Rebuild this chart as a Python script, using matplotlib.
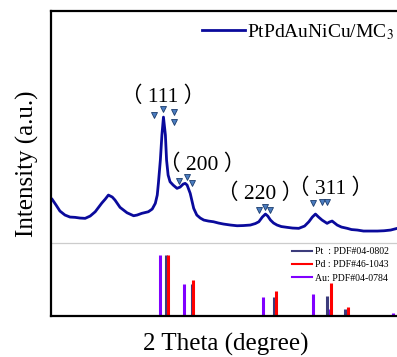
import matplotlib
matplotlib.use('Agg')
import matplotlib.pyplot as plt
from matplotlib.lines import Line2D

plt.rcParams['font.family'] = ['Liberation Serif', 'Noto Sans CJK SC']
plt.rcParams['mathtext.fontset'] = 'stix'

# ── data ─────────────────────────────────────────────────────────────────────
# measured pattern, 2theta (deg) vs intensity (a.u.)
two_theta = [10.3, 11.3, 12.3, 13.6, 14.9, 16.2, 17.5, 18.8, 20.1, 21.4,
             23.1, 24.0, 24.8, 25.8, 26.5, 27.8, 29.6, 31.3, 32.2, 33.4,
             35.1, 36.1, 36.9, 37.4, 37.7, 38.2, 38.6, 39.0, 39.5, 39.8,
             40.2, 40.7, 41.5, 42.5, 43.3, 44.1, 44.6, 45.1, 45.9, 46.8,
             47.6, 48.5, 49.4, 50.6, 51.9, 53.2, 54.5, 56.3, 58.0, 59.6,
             61.4, 62.7, 63.6, 64.5, 65.3, 65.9, 66.6, 67.4, 68.3, 69.4,
             70.9, 72.3, 73.9, 75.4, 76.5, 77.4, 78.2, 79.0, 79.9, 81.2,
             81.8, 82.5, 83.8, 84.9, 86.4, 87.5, 89.0, 90.6, 92.4, 94.2,
             95.9, 97.6, 99.3, 100.0]
intensity = [116.7, 111, 105, 101, 99, 98.7, 98, 97.7, 100, 104.3,
             113, 117, 121, 119, 116, 108.7, 103.3, 100.3, 101, 102.7,
             104.3, 107, 112.7, 121, 133, 156, 181, 199, 181, 156,
             141, 134.3, 131, 127.7, 129, 132, 132.7, 131, 122.7, 107.7,
             101, 98, 96, 95, 94.3, 93, 92, 91, 90.3, 90.5,
             91, 92.5, 94.3, 99, 102, 100, 96, 93, 91, 89.5,
             88.7, 88, 87.7, 90, 94.3, 99, 102, 99, 96, 92.7,
             94, 95, 91, 89, 87.7, 86.5, 86, 85, 85, 85,
             85.3, 86, 87.7, 88]

# reference cards (2theta, relative intensity %)
pt_pos = [39.76, 46.24, 67.45, 81.29, 85.71]
pt_int = [100, 52, 31, 33, 11]
pd_pos = [40.12, 46.66, 68.12, 82.10, 86.62]
pd_int = [100, 59, 41, 54, 15]
au_pos = [38.18, 44.39, 64.58, 77.55, 81.72, 98.13]
au_int = [100, 52, 31, 36, 11, 5]

# triangle markers and reflection labels
tri_x = [36.6, 39.0, 41.6, 41.6, 42.9, 45.1, 46.4, 63.6, 65.1, 66.6, 77.6, 79.9, 81.2]
tri_y = [201, 207, 204.3, 194.3, 135.3, 139.3, 132.7, 106, 108.7, 106, 112.7, 114.3, 114.3]
hkl_labels = ['（ 111 ）', '（ 200 ）', '（ 220 ）', '（ 311 ）']
hkl_x = [39.0, 48.9, 64.0, 82.2]
hkl_y = [219.3, 151, 122.7, 127.7]

sample_label = 'PtPdAuNiCu/MC$_3$'
card_labels = ['Pt  : PDF#04-0802', 'Pd : PDF#46-1043', 'Au: PDF#04-0784']

# ── plot ─────────────────────────────────────────────────────────────────────
fig = plt.figure(figsize=(3.97, 3.57), dpi=100)
ax = fig.add_axes([0.1285, 0.1148, 0.879, 0.854])

stick_scale = 0.61
line, = ax.plot(two_theta, intensity, color='#0a0a9c', linewidth=2.0,
                label=sample_label)

ax.vlines(au_pos, 0, [v * stick_scale for v in au_int],
          color='#8000ff', linewidth=2.2)
ax.vlines(pt_pos, 0, [v * stick_scale for v in pt_int],
          color='#3c3c7c', linewidth=2.2)
ax.vlines(pd_pos, 0, [v * stick_scale for v in pd_int],
          color='#ff0000', linewidth=2.2)

ax.axhline(73, color='#cccccc', linewidth=0.9)

ax.plot(tri_x, tri_y, linestyle='none', marker='v', markersize=4.2,
        markerfacecolor='#4a7cc0', markeredgecolor='#1c3c6c',
        markeredgewidth=0.6)

for lab, x, y in zip(hkl_labels, hkl_x, hkl_y):
    ax.text(x, y, lab, fontsize=15.5, ha='center', va='center')

ax.set_xlim(10, 100)
ax.set_ylim(0, 305)
ax.set_xticks([])
ax.set_yticks([])
for side in ['left', 'top', 'bottom', 'right']:
    ax.spines[side].set_linewidth(1.6)
    ax.spines[side].set_color('black')

ax.set_xlabel('2 Theta (degree)', fontsize=18, labelpad=12)
ax.set_ylabel('Intensity (a.u.)', fontsize=18, labelpad=9)

leg1 = ax.legend(handles=[line], loc='upper left',
                 bbox_to_anchor=(0.432, 0.965), frameon=False,
                 fontsize=14, handlelength=2.2, handletextpad=0.15,
                 borderpad=0, borderaxespad=0)
ax.add_artist(leg1)

card_handles = [Line2D([], [], color=c, linewidth=1.5)
                for c in ['#3c3c7c', '#ff0000', '#8000ff']]
ax.legend(handles=card_handles, labels=card_labels, loc='upper left',
          bbox_to_anchor=(0.69, 0.226), frameon=False, fontsize=7,
          handlelength=2.06, handletextpad=0.35, labelspacing=0.45,
          borderpad=0, borderaxespad=0)

fig.savefig('out.png', dpi=100)
